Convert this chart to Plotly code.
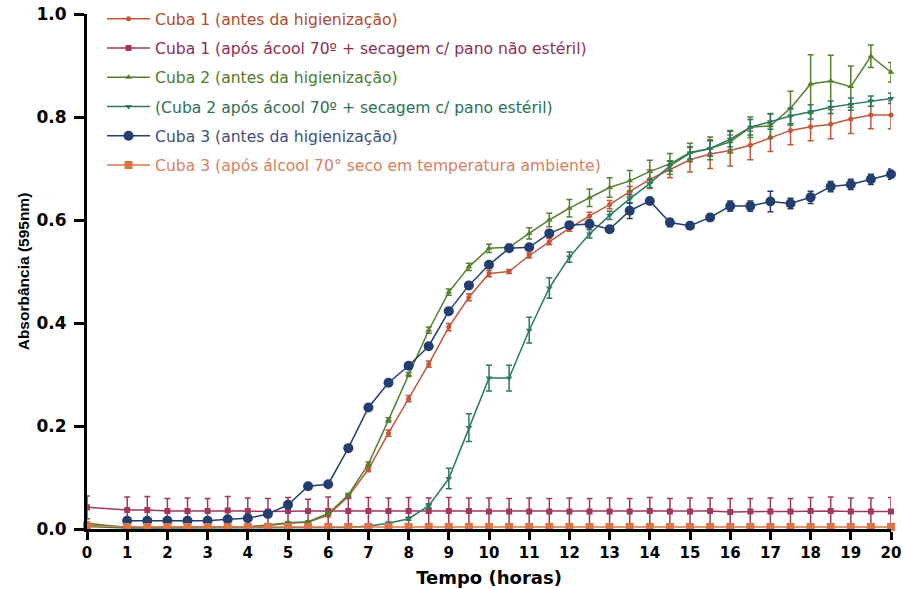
import plotly.graph_objects as go

tempo = [0, 1, 1.5, 2, 2.5, 3, 3.5, 4, 4.5, 5, 5.5, 6, 6.5, 7, 7.5, 8, 8.5, 9, 9.5, 10,
         10.5, 11, 11.5, 12, 12.5, 13, 13.5, 14, 14.5, 15, 15.5, 16, 16.5, 17, 17.5, 18,
         18.5, 19, 19.5, 20]

cuba1_antes = [0.008, 0.003, 0.003, 0.003, 0.003, 0.003, 0.003, 0.004, 0.007, 0.011, 0.013,
               0.027, 0.063, 0.116, 0.186, 0.253, 0.320, 0.392, 0.450, 0.496, 0.500, 0.531,
               0.558, 0.584, 0.608, 0.630, 0.655, 0.679, 0.698, 0.717, 0.728, 0.735, 0.745,
               0.760, 0.774, 0.781, 0.786, 0.796, 0.804, 0.804]
cuba1_antes_err = [0.002, 0.001, 0.001, 0.001, 0.001, 0.001, 0.001, 0.001, 0.001, 0.002, 0.002,
                   0.003, 0.004, 0.005, 0.006, 0.006, 0.006, 0.007, 0.007, 0.006, 0.004, 0.005,
                   0.006, 0.006, 0.007, 0.008, 0.010, 0.018, 0.016, 0.024, 0.028, 0.030, 0.028,
                   0.027, 0.028, 0.027, 0.028, 0.028, 0.027, 0.027]

cuba1_apos = [0.042, 0.037, 0.037, 0.035, 0.035, 0.035, 0.036, 0.035, 0.034, 0.035, 0.035,
              0.035, 0.035, 0.035, 0.035, 0.035, 0.035, 0.035, 0.035, 0.034, 0.034, 0.034,
              0.034, 0.034, 0.034, 0.034, 0.034, 0.035, 0.034, 0.034, 0.035, 0.033, 0.034,
              0.034, 0.034, 0.035, 0.035, 0.034, 0.034, 0.034]
cuba1_apos_err = [0.022, 0.025, 0.026, 0.024, 0.025, 0.024, 0.027, 0.025, 0.025, 0.026, 0.023,
                  0.027, 0.025, 0.026, 0.025, 0.026, 0.025, 0.026, 0.025, 0.026, 0.025, 0.026,
                  0.025, 0.026, 0.025, 0.026, 0.025, 0.026, 0.025, 0.026, 0.025, 0.026, 0.025,
                  0.026, 0.025, 0.026, 0.027, 0.026, 0.026, 0.027]

cuba2_antes = [0.011, 0.003, 0.003, 0.003, 0.003, 0.003, 0.003, 0.004, 0.008, 0.012, 0.014,
               0.030, 0.066, 0.126, 0.212, 0.300, 0.386, 0.460, 0.509, 0.545, 0.547, 0.574,
               0.600, 0.623, 0.643, 0.663, 0.676, 0.694, 0.709, 0.731, 0.739, 0.752, 0.780,
               0.783, 0.817, 0.864, 0.870, 0.859, 0.918, 0.887]
cuba2_antes_err = [0.002, 0.001, 0.001, 0.001, 0.001, 0.001, 0.001, 0.001, 0.001, 0.002, 0.002,
                   0.003, 0.003, 0.004, 0.004, 0.004, 0.006, 0.006, 0.007, 0.008, 0.006, 0.011,
                   0.013, 0.017, 0.017, 0.019, 0.020, 0.022, 0.020, 0.018, 0.022, 0.022, 0.020,
                   0.024, 0.033, 0.057, 0.050, 0.040, 0.022, 0.019]

cuba2_apos = [0.005, 0.002, 0.002, 0.002, 0.002, 0.002, 0.002, 0.002, 0.002, 0.002, 0.003,
              0.003, 0.003, 0.006, 0.011, 0.020, 0.045, 0.098, 0.197, 0.293, 0.293, 0.386,
              0.468, 0.528, 0.573, 0.609, 0.641, 0.671, 0.705, 0.730, 0.739, 0.757, 0.780,
              0.791, 0.802, 0.810, 0.819, 0.825, 0.831, 0.836]
cuba2_apos_err = [0.001, 0.001, 0.001, 0.001, 0.001, 0.001, 0.001, 0.001, 0.001, 0.001, 0.001,
                  0.001, 0.001, 0.001, 0.002, 0.003, 0.004, 0.020, 0.027, 0.025, 0.025, 0.025,
                  0.020, 0.010, 0.008, 0.008, 0.008, 0.008, 0.010, 0.012, 0.015, 0.015, 0.015,
                  0.015, 0.015, 0.014, 0.012, 0.012, 0.010, 0.010]

cuba3_antes = [None, 0.016, 0.016, 0.016, 0.016, 0.016, 0.019, 0.021, 0.029, 0.047, 0.083,
               0.087, 0.157, 0.236, 0.284, 0.317, 0.355, 0.423, 0.473, 0.513, 0.545, 0.547,
               0.574, 0.590, 0.592, 0.582, 0.618, 0.637, 0.595, 0.589, 0.605, 0.627, 0.627,
               0.636, 0.632, 0.644, 0.665, 0.669, 0.679, 0.689]
cuba3_antes_err = [None, 0.002, 0.002, 0.002, 0.002, 0.002, 0.002, 0.002, 0.002, 0.003, 0.003,
                   0.003, 0.003, 0.003, 0.003, 0.003, 0.003, 0.003, 0.003, 0.003, 0.003, 0.003,
                   0.003, 0.004, 0.005, 0.005, 0.015, 0.004, 0.008, 0.006, 0.007, 0.010, 0.010,
                   0.020, 0.010, 0.012, 0.010, 0.010, 0.010, 0.010]

cuba3_apos = [0.006, 0.004, 0.004, 0.004, 0.004, 0.004, 0.004, 0.004, 0.004, 0.004, 0.004,
              0.004, 0.004, 0.004, 0.004, 0.004, 0.004, 0.004, 0.004, 0.004, 0.004, 0.004,
              0.004, 0.004, 0.004, 0.004, 0.004, 0.004, 0.004, 0.004, 0.004, 0.004, 0.004,
              0.004, 0.004, 0.004, 0.004, 0.004, 0.004, 0.004]
cuba3_apos_err = [0.002] * 40

series_names = ["Cuba 1 (antes da higienização)",
                "Cuba 1 (após ácool 70º + secagem c/ pano não estéril)",
                "Cuba 2 (antes da higienização)",
                "(Cuba 2 após ácool 70º + secagem c/ pano estéril)",
                "Cuba 3 (antes da higienização)",
                "Cuba 3 (após álcool 70° seco em temperatura ambiente)"]

x_ticks = list(range(0, 21))
y_ticks = [0.0, 0.2, 0.4, 0.6, 0.8, 1.0]

styles = [
    dict(line="#C4573A", text="#B04A30", symbol="circle", size=5),
    dict(line="#A3365F", text="#8E2D55", symbol="square", size=6),
    dict(line="#557F2C", text="#4E7A2B", symbol="triangle-up", size=6),
    dict(line="#2A7A5E", text="#2E6F57", symbol="triangle-down", size=6),
    dict(line="#233E6E", text="#3E4F7A", symbol="circle", size=10),
    dict(line="#DB7446", text="#D98062", symbol="square", size=8),
]

data = [(cuba1_antes, cuba1_antes_err), (cuba1_apos, cuba1_apos_err),
        (cuba2_antes, cuba2_antes_err), (cuba2_apos, cuba2_apos_err),
        (cuba3_antes, cuba3_antes_err), (cuba3_apos, cuba3_apos_err)]

fig = go.Figure()
for i, ((vals, errs), name, st) in enumerate(zip(data, series_names, styles)):
    fig.add_trace(go.Scatter(
        x=tempo, y=vals, mode="lines+markers",
        name=f'<span style="color:{st["text"]}">{name}</span>',
        legendgroup=f"g{i}",
        line=dict(color=st["line"], width=1.5),
        marker=dict(symbol=st["symbol"], size=st["size"], color=st["line"]),
        error_y=dict(type="data", array=errs, visible=True, color=st["line"],
                     thickness=1.5, width=3),
        cliponaxis=False,
    ))

fig.update_layout(
    width=903, height=589,
    margin=dict(l=87, r=12, t=0, b=60, autoexpand=False),
    plot_bgcolor="white", paper_bgcolor="white",
    showlegend=True,
    legend=dict(x=0.0187, y=0.9962, xanchor="left", yanchor="top",
                bgcolor="rgba(0,0,0,0)", itemwidth=43, tracegroupgap=6,
                font=dict(family="DejaVu Sans", size=15.6)),
    xaxis=dict(range=[0, 20], tickvals=x_ticks, ticktext=[str(v) for v in x_ticks],
               automargin=False, ticklabeloverflow="allow",
               showline=True, linewidth=3, linecolor="black",
               ticks="outside", ticklen=8, tickwidth=3, tickcolor="black",
               showgrid=False, zeroline=False,
               tickfont=dict(family="DejaVu Sans", size=15, color="black", weight="bold"),
               title=dict(text="Tempo (horas)", standoff=11,
                          font=dict(family="DejaVu Sans", size=18, color="black", weight="bold"))),
    yaxis=dict(range=[0, 1], tickvals=y_ticks, tickformat=".1f",
               domain=[0, 515 / 529], automargin=False, ticklabeloverflow="allow",
               showline=True, linewidth=3, linecolor="black",
               ticks="outside", ticklen=10, tickwidth=3, tickcolor="black",
               ticklabelstandoff=4,
               showgrid=False, zeroline=False,
               tickfont=dict(family="DejaVu Sans", size=17, color="black", weight="bold"),
               title=dict(text="Absorbância (595nm)", standoff=4,
                          font=dict(family="Liberation Sans", size=15.5, color="black",
                                    weight="bold"))),
)

fig.write_html("out.html", config={"displayModeBar": False},
               post_script="document.body.style.margin='0';")
